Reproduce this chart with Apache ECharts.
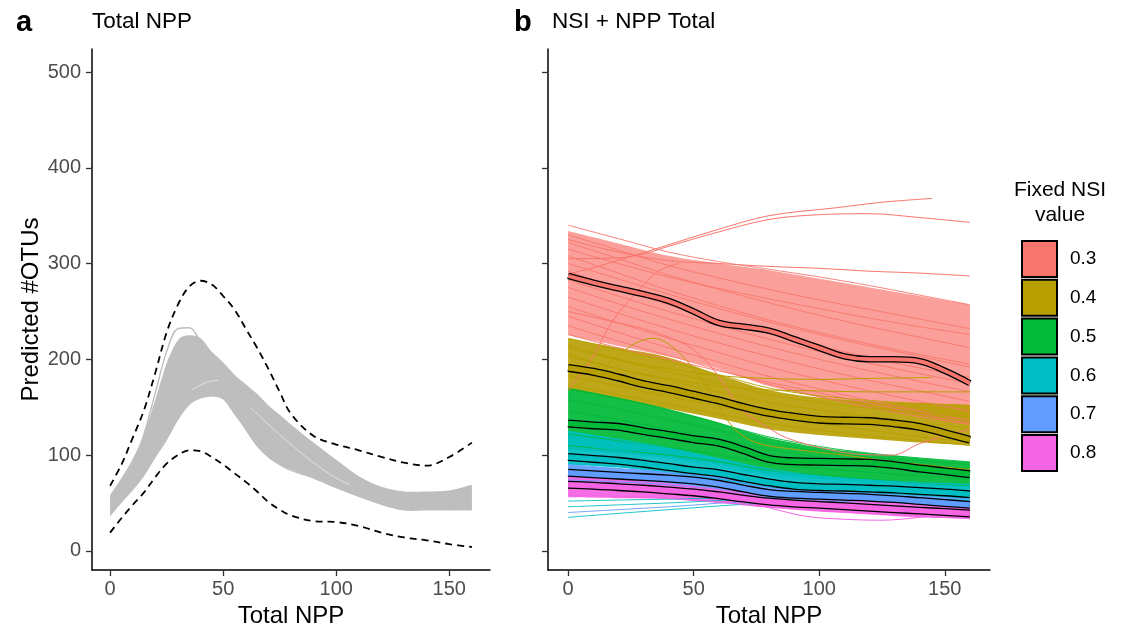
<!DOCTYPE html>
<html><head><meta charset="utf-8">
<script src="https://cdn.jsdelivr.net/npm/echarts@6/dist/echarts.min.js"></script>
<style>html,body{margin:0;padding:0;background:#fff}#c{width:1131px;height:634px}</style>
</head><body><div id="c"></div>
<script>
const FONT = '"Liberation Sans", Arial, Helvetica, sans-serif';
const xTicks = [0, 50, 100, 150];
const yTicks = [0, 100, 200, 300, 400, 500];
const nsiLevels = ['0.3', '0.4', '0.5', '0.6', '0.7', '0.8'];
const nsiColors = ['#F8766D', '#B79F00', '#00BA38', '#00BFC4', '#619CFF', '#F564E3'];

// ---------- Panel a ----------
const xA = [0,5,10,15,20,25,30,35,40,45,50,55,60,65,70,75,80,90,100,110,120,130,140,150,160];
const aUpperDash = [68,90,118,147,186,228,257,276,282,278,266,252,232,212,190,166,143,120,111,105,98,92,89,98,113];
const aLowerDash = [19,34,48,61,77,91,100,105,104,98,90,81,72,62,51,43,37,31,30,26,19,14,11,7,4];
const aBandTop = [58,76,96,122,158,196,220,225,222,208,197,184,174,164,152,142,132,113,95,78,67,62,62,63,69];
const aBandLow = [36,50,63,78,97,115,136,152,159,161,158,142,126,109,98,90,85,76,66,57,48,42,42,42,42];
const aPeakLine = [42,62,88,122,165,208,232,233,218,196,172,148,127,110,98,90,84,76,66,57,49,44,44,45,46];
const aGap1 = [[36,168],[40,173],[44,177],[48,178]];
const aGap2 = [[62,150],[70,132],[80,111],[90,92],[100,76],[106,69]];

// ---------- Panel b ----------
const xB = [0,10,20,30,40,50,60,70,80,90,100,110,120,130,140,150,160];
const xB9 = [0,20,40,60,80,100,120,140,160];

const mean03 = [287,280,274,268,261,250,238,234,230,221,212,203,200,200,198,188,175];
const mean04 = [191,187,181,174,169,163,157,150,144,140,137,136,135.5,133,129.5,123,116];
const mean05 = [133,131,129.5,125,121,116.5,113,105,96,93.5,93,92.5,92,89.5,86,83,80];
const mean06 = [98,96,94,91,87.5,84,81,76,71.5,68,66.5,66,65,64,62.5,61,59];
const mean07 = [81.5,80,78.5,77,75.5,73.5,70,65,60.5,58.5,57.5,56.5,55.5,54,52,50,48];
const mean08 = [69,68,66.5,65,63,61,58,54.5,51.5,49.5,48,46.5,45,43.5,42,40.5,39];

const band03Top = [334,321,308,300,293,284,275,266,257];
const band03Low = [225,214,203,190,172,160,150,141,132];
const band04Top = [222,212,202,184,168,160,156,154,152];
const band04Low = [168,158,148,138,127,121,117,113,110];
const band05Top = [170,160,148,134,118,108,102,97,93];
const band05Low = [105,102,97,90,80,75,71,68,66];
const band06Top = [125,117,108,97,86,79,75,72,70];
const band06Low = [90,87,81,74,66,62,60,57,54];
const band07Top = [90,86,82,77,68,63,60,57,54];
const band07Low = [73,71,68,63,56,53,51,48,44];
const band08Top = [77,74,70,64,58,54,51,48,46];
const band08Low = [56,55,54,50,45,41,38,35,33];

const lines03 = [
  [340,326,312,302,294,286,277,267,257],
  [330,314,298,285,273,262,252,242,232],
  [322,305,288,273,259,246,234,223,212],
  [315,300,286,274,263,253,243,234,226],
  [308,290,272,256,241,228,216,205,195],
  [300,284,268,253,239,226,214,203,192],
  [292,274,257,241,227,214,202,191,181],
  [283,266,250,235,221,208,196,185,175],
  [275,258,242,227,213,200,188,177,166],
  [265,248,232,217,203,190,178,167,156],
  [255,238,222,207,192,179,167,156,146],
  [245,228,212,197,182,169,157,146,136],
  [235,219,204,189,174,161,150,140,132],
  [226,212,200,188,176,165,154,143,133]
];
const lines04 = [
  [222,210,198,184,170,162,157,154,152],
  [212,199,187,175,163,155,149,144,140],
  [203,190,178,166,155,147,140,134,128],
  [193,181,169,158,148,140,133,126,120],
  [183,172,161,151,141,133,126,119,114],
  [173,163,153,143,133,126,120,115,110]
];
const lines05 = [
  [170,159,147,133,119,109,102,97,93],
  [158,148,137,126,113,104,98,94,90],
  [146,137,127,117,106,98,93,89,86],
  [134,126,118,109,99,92,88,84,81],
  [122,115,108,100,91,86,82,78,75],
  [110,105,100,93,84,79,75,71,68]
];
const lines06 = [
  [125,116,107,96,85,78,74,71,69],
  [112,105,97,88,79,73,70,67,64],
  [100,95,89,82,74,69,66,63,60],
  [91,88,82,75,67,63,61,58,55]
];
const lines07 = [
  [90,86,82,76,68,63,60,57,54],
  [82,79,75,70,62,58,56,53,50],
  [74,72,69,64,57,54,52,49,45]
];
const lines08 = [
  [77,74,70,64,58,54,51,48,46],
  [68,66,63,58,52,48,45,42,40],
  [58,57,55,51,46,42,39,36,34]
];
const low06 = [
  [[0,35],[40,43],[80,50],[120,52],[160,50]],
  [[0,46],[40,50],[80,54],[120,54],[160,52]],
  [[0,52],[40,54],[80,56],[120,55],[160,53]]
];
const low07 = [
  [[0,40],[40,46],[80,52],[120,52],[160,50]]
];
const out03 = [
  [[0,289],[12,297],[32,313],[59,335],[80,350],[106,358],[125,364],[145,368]],
  [[0,305],[20,306],[30,310],[40,318],[60,333],[80,346],[100,351],[120,352],[140,348],[160,343]],
  [[0,325],[20,312],[40,303],[60,300],[80,297],[100,295],[120,292],[140,290],[160,287]],
  [[0,168],[10,203],[15,228],[20,248],[28,272],[36,292],[44,300]],
  [[0,250],[20,238],[30,232],[43,220],[50,210],[57,192],[63,170],[68,150],[73,140],[80,128],[87,118],[100,108],[115,101],[129,100],[140,112],[150,120],[160,127]]
];
const out04 = [
  [[0,168],[10,182],[20,204],[27,217],[34,222],[42,212],[50,190],[58,160],[66,128],[75,113],[90,106],[110,100],[130,93],[160,85]],
  [[0,215],[20,200],[40,190],[60,183],[80,180],[100,179],[120,180],[145,181]],
  [[0,205],[20,190],[40,180],[60,172],[80,168],[100,167],[120,166],[160,166]]
];
const out08 = [
  [[0,66],[40,60],[60,56],[70,52],[80,45],[95,36],[110,33],[125,32],[140,35],[160,41]]
];

// ---------- helpers ----------
const zip = (xs, ys) => xs.map((x, i) => [x, ys[i]]);
function line(name, data, color, width, gi, extra) {
  return Object.assign({
    type: 'line', name: name, xAxisIndex: gi, yAxisIndex: gi, data: data,
    symbol: 'none', smooth: 0.35, silent: true, clip: true,
    lineStyle: { color: color, width: width }, itemStyle: { color: color }
  }, extra || {});
}
// Catmull-Rom curve through pixel points, as SVG path segments
function curveSegs(pts, t) {
  let d = '';
  for (let i = 0; i < pts.length - 1; i++) {
    const p0 = pts[Math.max(i - 1, 0)], p1 = pts[i], p2 = pts[i + 1], p3 = pts[Math.min(i + 2, pts.length - 1)];
    const c1x = p1[0] + (p2[0] - p0[0]) * t / 6, c1y = p1[1] + (p2[1] - p0[1]) * t / 6;
    const c2x = p2[0] - (p3[0] - p1[0]) * t / 6, c2y = p2[1] - (p3[1] - p1[1]) * t / 6;
    d += ' C ' + c1x + ' ' + c1y + ' ' + c2x + ' ' + c2y + ' ' + p2[0] + ' ' + p2[1];
  }
  return d;
}
function band(name, xs, top, low, color, opacity, gi) {
  return {
    type: 'custom', name: name, xAxisIndex: gi, yAxisIndex: gi, silent: true, clip: true,
    data: [[xs[0], low[0]]],
    renderItem: function (params, api) {
      const up = xs.map((x, i) => api.coord([x, top[i]]));
      const dn = xs.map((x, i) => api.coord([x, low[i]])).reverse();
      let d = 'M ' + up[0][0] + ' ' + up[0][1] + curveSegs(up, 0.9);
      d += ' L ' + dn[0][0] + ' ' + dn[0][1] + curveSegs(dn, 0.9) + ' Z';
      return { type: 'path', shape: { pathData: d }, style: { fill: color, opacity: opacity } };
    }
  };
}

const series = [];
// panel a
series.push(band('a-band', xA, aBandTop, aBandLow, '#bebebe', 1, 0));
series.push(line('a-peak', zip(xA, aPeakLine), '#bebebe', 1.4, 0));
series.push(line('a-gap1', aGap1, '#ffffff', 0.7, 0, { lineStyle: { color: '#fff', width: 0.7, opacity: 0.8 } }));
series.push(line('a-gap2', aGap2, '#ffffff', 0.7, 0, { lineStyle: { color: '#fff', width: 0.7, opacity: 0.8 } }));
series.push(line('a-up', zip(xA, aUpperDash), '#000', 1.8, 0, { lineStyle: { color: '#000', width: 1.8, type: [7, 5] } }));
series.push(line('a-low', zip(xA, aLowerDash), '#000', 1.8, 0, { lineStyle: { color: '#000', width: 1.8, type: [7, 5] } }));

// panel b
const bands = [[band03Top, band03Low, 0.7], [band04Top, band04Low, 0.9], [band05Top, band05Low, 0.92],
               [band06Top, band06Low, 0.92], [band07Top, band07Low, 0.94], [band08Top, band08Low, 0.94]];
const groupLines = [lines03, lines04, lines05, lines06, lines07, lines08];
const lowLines = [[], [], [], low06, low07, []];
for (let g = 0; g < 6; g++) {
  const name = nsiLevels[g], col = nsiColors[g];
  series.push(band(name, xB9, bands[g][0], bands[g][1], col, bands[g][2], 1));
  groupLines[g].forEach(v => series.push(line(name, zip(xB9, v), col, 0.9, 1)));
  lowLines[g].forEach(d => series.push(line(name, d, col, 0.9, 1)));
}
out03.forEach(d => series.push(line('0.3', d, nsiColors[0], 1, 1)));
out04.forEach(d => series.push(line('0.4', d, nsiColors[1], 1, 1)));
out08.forEach(d => series.push(line('0.8', d, nsiColors[5], 1, 1)));

const means = [mean03, mean04, mean05, mean06, mean07, mean08];
for (let g = 0; g < 6; g++) {
  const w = g === 0 ? 6.5 : 8;
  series.push(line('m' + g, zip(xB, means[g]), '#000', w, 1, { smooth: 0.4 }));
  series.push(line(nsiLevels[g], zip(xB, means[g]), nsiColors[g], w - 2.6, 1, { smooth: 0.4 }));
}

function xAxisCfg(gi) {
  return {
    type: 'value', gridIndex: gi, min: -8, max: 168,
    name: 'Total NPP', nameLocation: 'middle', nameGap: 24,
    nameTextStyle: { fontFamily: FONT, fontSize: 24, color: '#000' },
    axisLine: { show: true, onZero: false, lineStyle: { color: '#000', width: 1.5 } },
    axisTick: { show: true, length: 6, lineStyle: { color: '#333', width: 1.3 }, customValues: xTicks },
    axisLabel: { fontFamily: FONT, fontSize: 20, color: '#4d4d4d', margin: 9, customValues: xTicks },
    splitLine: { show: false }
  };
}
function yAxisCfg(gi) {
  return {
    type: 'value', gridIndex: gi, min: -20, max: 524,
    name: gi === 0 ? 'Predicted #OTUs' : '', nameLocation: 'middle', nameGap: 49,
    nameTextStyle: { fontFamily: FONT, fontSize: 24, color: '#000' },
    axisLine: { show: true, onZero: false, lineStyle: { color: '#000', width: 1.5 } },
    axisTick: { show: true, length: 6, lineStyle: { color: '#333', width: 1.3 }, customValues: yTicks },
    axisLabel: { show: gi === 0, fontFamily: FONT, fontSize: 20, color: '#4d4d4d', margin: 11, customValues: yTicks },
    splitLine: { show: false }
  };
}

const txt = (t, x, y, size, weight, align) => ({
  type: 'text', x: x, y: y, silent: true,
  style: { text: t, fill: '#000', fontFamily: FONT, fontSize: size, fontWeight: weight,
           textAlign: align, align: align, textVerticalAlign: 'middle', verticalAlign: 'middle' }
});

const chart = echarts.init(document.getElementById('c'), null, { renderer: 'canvas' });
chart.setOption({
  animation: false,
  backgroundColor: '#fff',
  grid: [
    { left: 92, top: 49, width: 398, height: 521 },
    { left: 548, top: 49, width: 442, height: 521 }
  ],
  xAxis: [xAxisCfg(0), xAxisCfg(1)],
  yAxis: [yAxisCfg(0), yAxisCfg(1)],
  legend: {
    orient: 'vertical', left: 1021, top: 240, padding: 0, itemWidth: 35, itemHeight: 36, itemGap: 0.8,
    selectedMode: false, icon: 'rect',
    data: nsiLevels.map((n, i) => ({ name: n, icon: 'rect',
      itemStyle: { color: nsiColors[i], borderColor: '#000', borderWidth: 2 } })),
    textStyle: { fontFamily: FONT, fontSize: 19, color: '#000', padding: [0, 0, 0, 8] }
  },
  graphic: [
    txt('a', 16, 23, 29, 'bold', 'left'),
    txt('Total NPP', 92, 22, 22.5, 'normal', 'left'),
    txt('b', 514, 23, 29, 'bold', 'left'),
    txt('NSI + NPP Total', 552, 22, 22.5, 'normal', 'left'),
    txt('Fixed NSI', 1060, 190, 21, 'normal', 'center'),
    txt('value', 1060, 215, 21, 'normal', 'center')
  ],
  series: series
});
</script></body></html>
